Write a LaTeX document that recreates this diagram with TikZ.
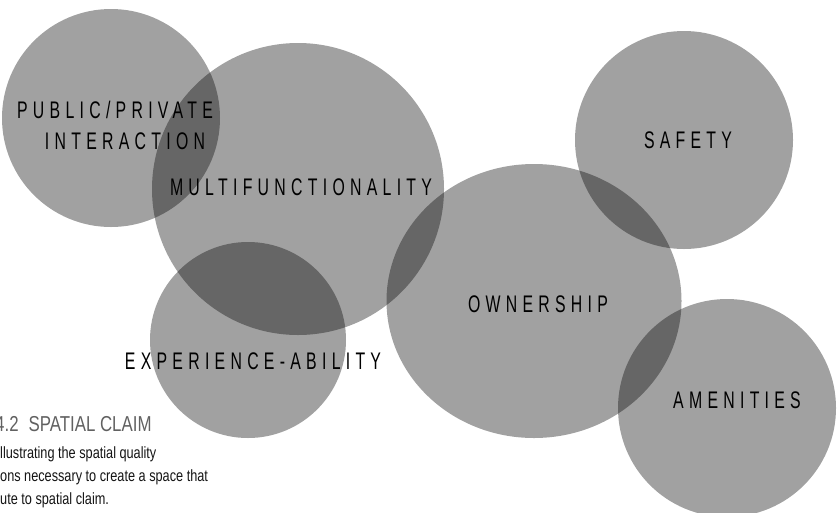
\documentclass[tikz,border=0pt]{standalone}
\usepackage{fontspec}
\setmainfont{Liberation Sans}
\newfontfamily\tagfont[FakeStretch=0.66, LetterSpace=22]{Liberation Sans}
\newfontfamily\titlefont[FakeStretch=0.78]{Liberation Sans}
\newfontfamily\bodyfont[FakeStretch=0.78]{Liberation Sans}
\usetikzlibrary{positioning, shapes.geometric}

\begin{document}
\begin{tikzpicture}[
            x=1pt, y=-1pt,
            spot/.style={circle, fill=black, fill opacity=0.37, inner sep=0pt, minimum size=#1},
            spot_oval/.style={ellipse, fill=black, fill opacity=0.37, inner sep=0pt, minimum width=295pt, minimum height=274pt},
            tag/.style={font=\tagfont\fontsize{24}{28}\selectfont, text=black, inner sep=0pt, anchor=base},
            caption_title/.style={font=\titlefont\fontsize{21.6}{26}\selectfont, text=black!62, inner sep=0pt, anchor=base west},
            caption_body/.style={font=\bodyfont\fontsize{16.3}{23}\selectfont, text=black!92, align=left, inner sep=0pt}
        ]
        \useasboundingbox (0,0) rectangle (837,512);
        
        % Circles
        \node[spot=218pt] (public) at (111,118) {};
        \node[spot=292pt] (multi) at (298,189) {};
        \node[spot=196pt] (experience) at (248,340) {};
        \node[spot_oval] (ownership) at (534,301) {};
        \node[spot=218pt] (safety) at (684,140) {};
        \node[spot=218pt] (amenities) at (727,408) {};
        
        % Labels of the circles
        \node[tag] (public_label) at (115,118.5) {PUBLIC/PRIVATE};
        \node[tag] (interaction_label) at (125,149) {INTERACTION};
        \node[tag] (multi_label) at (301,195) {MULTIFUNCTIONALITY};
        \node[tag] (experience_label) at (253,369) {EXPERIENCE-ABILITY};
        \node[tag] (ownership_label) at (538,312) {OWNERSHIP};
        \node[tag] (safety_label) at (688,148) {SAFETY};
        \node[tag] (amenities_label) at (737,408.5) {AMENITIES};
        
        % Caption
        \node[caption_title] (caption_title) at (-5,431.7) {4.2\hspace{10pt}SPATIAL CLAIM};
        \node[caption_body, below right=14.5pt and 5pt of caption_title.base west] (caption_body) {llustrating the spatial quality\\ons necessary to create a space that\\ute to spatial claim.};
    
    \end{tikzpicture}
\end{document}
